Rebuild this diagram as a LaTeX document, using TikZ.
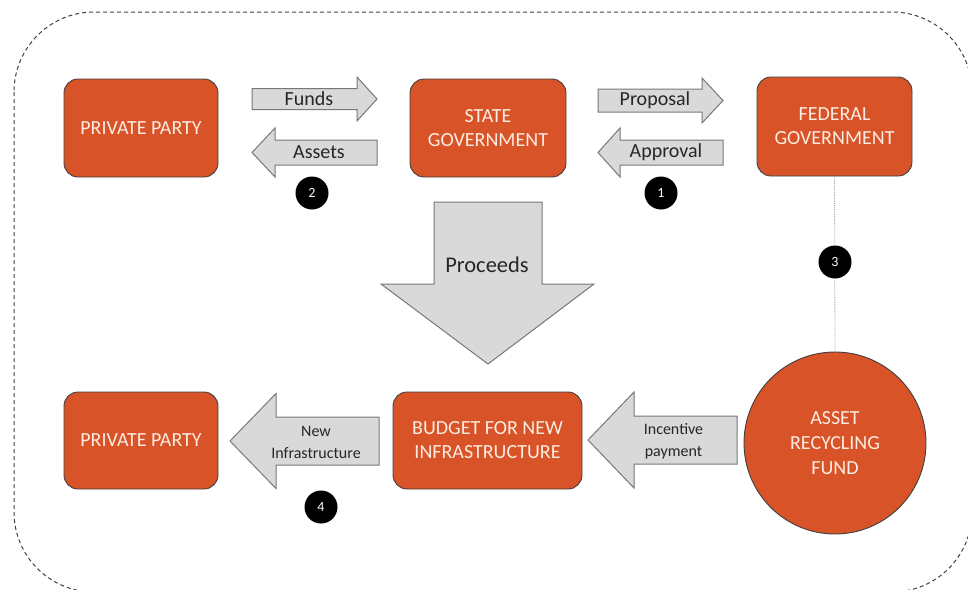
\documentclass[tikz,border=0pt]{standalone}
\usepackage{fontspec}
\setmainfont{Carlito}
\definecolor{boxfill}{RGB}{216,83,40}
\definecolor{boxtext}{RGB}{252,236,226}
\definecolor{arrowfill}{RGB}{217,217,217}
\definecolor{arrowline}{RGB}{120,120,120}
\tikzset{
  orangebox/.style={draw=black!75, line width=0.9pt, fill=boxfill, rounded corners=14pt,
    inner sep=0pt, align=center, text=boxtext, font=\fontsize{20}{24}\selectfont},
  fundcircle/.style={draw=black!75, line width=0.9pt, fill=boxfill, circle, inner sep=0pt,
    minimum size=182pt, align=center, text=boxtext, font=\fontsize{20}{25}\selectfont},
  blockarrow/.style={draw=arrowline, line width=1pt, fill=arrowfill},
  arrowlabel/.style={inner sep=0pt, text=black!85, font=\fontsize{20}{24}\selectfont},
  smalllabel/.style={inner sep=0pt, align=center, text=black!85, font=\fontsize{16}{22}\selectfont},
  biglabel/.style={inner sep=0pt, text=black!85, font=\fontsize{22.5}{26}\selectfont},
  badge/.style={circle, fill=black, inner sep=0pt, minimum size=33pt, text=white,
    font=\fontsize{14}{16}\selectfont},
  frame/.style={draw=black!75, line width=1pt, dash pattern=on 4pt off 3pt, rounded corners=80pt},
  dotline/.style={draw=black!40, line width=0.8pt, dash pattern=on 1pt off 1.2pt}
}
% right-pointing block arrow: x tail, x tip, y centre, shaft half height, head half height, head length
\newcommand{\rblock}[6]{%
  \draw[blockarrow] (#1,#3-#4) -- (#2-#6,#3-#4) -- (#2-#6,#3-#5) -- (#2,#3)
    -- (#2-#6,#3+#5) -- (#2-#6,#3+#4) -- (#1,#3+#4) -- cycle;}
% left-pointing block arrow: x tip, x tail, y centre, shaft half height, head half height, head length
\newcommand{\lblock}[6]{%
  \draw[blockarrow] (#2,#3-#4) -- (#1+#6,#3-#4) -- (#1+#6,#3-#5) -- (#1,#3)
    -- (#1+#6,#3+#5) -- (#1+#6,#3+#4) -- (#2,#3+#4) -- cycle;}
\begin{document}
\begin{tikzpicture}[x=1pt,y=-1pt]
\useasboundingbox (0,0) rectangle (968,589);
% dashed frame
\draw[frame] (14,12) rectangle (972,592);

% boxes
\node[orangebox, minimum width=154pt, minimum height=98pt] (pp1) at (141,128) {PRIVATE PARTY};
\node[orangebox, minimum width=156pt, minimum height=98pt] (sg) at (488,128) {STATE\\GOVERNMENT};
\node[orangebox, minimum width=155pt, minimum height=99pt] (fg) at (834.5,126.5) {FEDERAL\\GOVERNMENT};
\node[orangebox, minimum width=154pt, minimum height=97pt] (pp2) at (141,440.5) {PRIVATE PARTY};
\node[orangebox, minimum width=189pt, minimum height=97pt] (bud) at (487.5,440.5) {BUDGET FOR NEW\\INFRASTRUCTURE};
\node[fundcircle] (arf) at (835,443) {ASSET\\RECYCLING\\FUND};

% dotted link federal -> fund
\draw[dotline] (fg.south) -- (arf.north);

% block arrows
\rblock{252}{377}{99}{10.5}{22}{20}
\node[arrowlabel] (funds) at (309,99) {Funds};
\lblock{252}{377}{152.5}{12.5}{24.5}{23}
\node[arrowlabel] (assets) at (319,152.5) {Assets};
\rblock{598}{723}{100.5}{11.5}{22.5}{21}
\node[arrowlabel] (proposal) at (655,100.5) {Proposal};
\lblock{598}{723}{152.5}{12.5}{24.5}{22}
\node[arrowlabel] (approval) at (666,152.5) {Approval};
\lblock{230}{379}{441}{24}{47.5}{46}
\node[smalllabel] (newinf) at (316,442) {New\\Infrastructure};
\lblock{588}{737}{440}{24}{48}{46}
\node[smalllabel] (incent) at (673.5,441) {Incentive\\payment};
% proceeds arrow
\draw[blockarrow] (434,202) -- (542,202) -- (542,284) -- (594,284) -- (488,364)
  -- (381,284) -- (434,284) -- cycle;
\node[biglabel] (proceeds) at (487,265) {Proceeds};

% badges
\node[badge] (b1) at (661,193) {1};
\node[badge] (b2) at (312,193) {2};
\node[badge] (b3) at (835,262) {3};
\node[badge] (b4) at (321,507) {4};
\end{tikzpicture}
\end{document}
